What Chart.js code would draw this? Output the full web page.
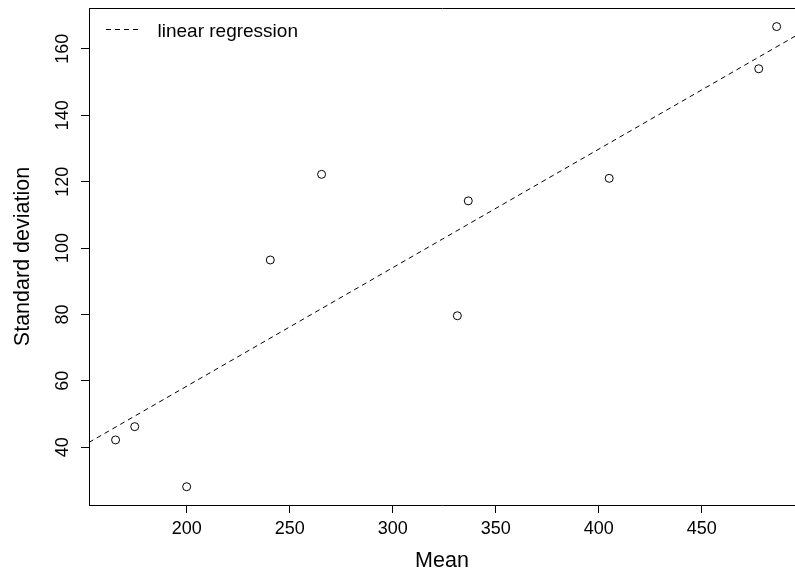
<!DOCTYPE html>
<html>
<head>
<meta charset="utf-8">
<script src="https://cdn.jsdelivr.net/npm/chart.js@4.4.1/dist/chart.umd.min.js"></script>
<style>
  html, body { margin: 0; padding: 0; background: #fff; }
  #wrap { width: 795px; height: 574px; }
</style>
</head>
<body>
<div id="wrap"><canvas id="myChart"></canvas></div>
<script>
const meanValues = [165.5, 174.8, 200.0, 240.6, 265.5, 331.4, 336.7, 405.1, 477.7, 486.4];
const sdValues = [42.2, 46.2, 28.1, 96.4, 122.2, 79.6, 114.2, 121.0, 154.0, 166.7];
const xTicks = [200, 250, 300, 350, 400, 450];
const yTicks = [40, 60, 80, 100, 120, 140, 160];
const xRange = [152.6, 495.3];
const yRange = [22.6, 172.3];
const legendLabel = 'linear regression';

const FONT = '"Liberation Sans", Arial, Helvetica, sans-serif';

// least squares fit, drawn across the whole plot like abline(lm(...))
function fitLine(xs, ys) {
    const n = xs.length;
    const mx = xs.reduce((a, b) => a + b, 0) / n;
    const my = ys.reduce((a, b) => a + b, 0) / n;
    let sxx = 0, sxy = 0;
    for (let i = 0; i < n; i++) {
        sxx += (xs[i] - mx) * (xs[i] - mx);
        sxy += (xs[i] - mx) * (ys[i] - my);
    }
    const slope = sxy / sxx;
    return { slope, intercept: my - slope * mx };
}

const fit = fitLine(meanValues, sdValues);
const regLine = xRange.map(x => ({ x, y: fit.intercept + fit.slope * x }));

// R style box: top edge plus the legend in the top left corner
const boxAndLegend = {
    id: 'boxAndLegend',
    afterDraw(chart) {
        const { ctx, chartArea: a } = chart;
        ctx.save();
        ctx.strokeStyle = '#000';
        ctx.lineWidth = 1;
        ctx.beginPath();
        ctx.moveTo(a.left, Math.round(a.top) + 0.5);
        ctx.lineTo(a.right + 2, Math.round(a.top) + 0.5);
        ctx.stroke();

        const ly = Math.round(a.top + 20.5) + 0.5;
        ctx.setLineDash([5, 4]);
        ctx.beginPath();
        ctx.moveTo(a.left + 17, ly);
        ctx.lineTo(a.left + 53, ly);
        ctx.stroke();
        ctx.setLineDash([]);

        ctx.font = '19px ' + FONT;
        ctx.fillStyle = '#000';
        ctx.textBaseline = 'alphabetic';
        ctx.fillText(legendLabel, a.left + 68.5, a.top + 28.5);
        ctx.restore();
    }
};

const axisGrid = { drawOnChartArea: false, drawTicks: true, tickLength: 8, color: '#000', lineWidth: 1 };
const axisBorder = { display: true, color: '#000', width: 1 };

const ctx = document.getElementById('myChart');

new Chart(ctx, {
    type: 'scatter',
    data: {
        datasets: [
            {
                label: 'observations',
                data: meanValues.map((x, i) => ({ x, y: sdValues[i] })),
                pointStyle: 'circle',
                pointRadius: 4,
                pointHoverRadius: 4,
                borderColor: '#000',
                borderWidth: 1,
                backgroundColor: 'rgba(0,0,0,0)'
            },
            {
                type: 'line',
                label: legendLabel,
                data: regLine,
                borderColor: '#000',
                borderWidth: 1,
                borderDash: [5, 4],
                pointRadius: 0,
                fill: false
            }
        ]
    },
    options: {
        responsive: true,
        maintainAspectRatio: false,
        animation: false,
        layout: { autoPadding: false, padding: { top: 8, right: 0, bottom: 0, left: 0 } },
        plugins: {
            legend: { display: false },
            tooltip: { enabled: false }
        },
        scales: {
            x: {
                type: 'linear',
                min: xRange[0],
                max: xRange[1],
                afterBuildTicks: s => { s.ticks = xTicks.map(v => ({ value: v })); },
                afterFit: s => { s.height = 69; s.paddingLeft = 0; s.paddingRight = 0; },
                grid: axisGrid,
                border: axisBorder,
                ticks: { color: '#000', font: { family: FONT, size: 18 }, padding: 5, maxRotation: 0, autoSkip: false },
                title: { display: true, text: 'Mean', color: '#000', font: { family: FONT, size: 21.5 }, padding: { top: 0, bottom: 0 } }
            },
            y: {
                type: 'linear',
                min: yRange[0],
                max: yRange[1],
                afterBuildTicks: s => { s.ticks = yTicks.map(v => ({ value: v })); },
                afterFit: s => { s.width = 89; s.paddingTop = 0; s.paddingBottom = 0; },
                grid: axisGrid,
                border: axisBorder,
                ticks: { color: '#000', font: { family: FONT, size: 18 }, padding: 3, minRotation: 90, maxRotation: 90, crossAlign: 'center', autoSkip: false },
                title: { display: true, text: 'Standard deviation', color: '#000', font: { family: FONT, size: 21.5 }, padding: { top: 10, bottom: 0 } }
            }
        }
    },
    plugins: [boxAndLegend]
});
</script>
</body>
</html>
